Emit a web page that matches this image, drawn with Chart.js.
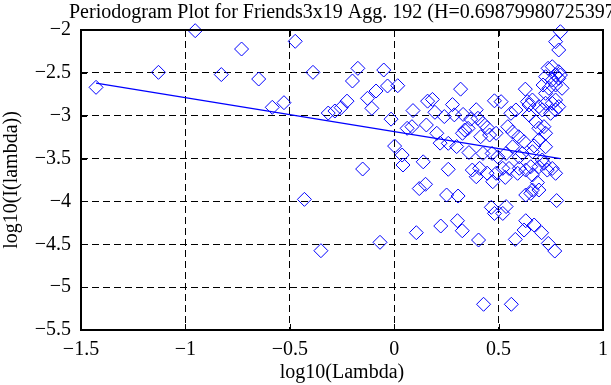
<!DOCTYPE html>
<html>
<head>
<meta charset="utf-8">
<script src="https://cdn.jsdelivr.net/npm/chart.js@4.4.1/dist/chart.umd.min.js"></script>
<style>
  html, body { margin: 0; padding: 0; background: #fff; }
  #wrap { width: 611px; height: 385px; }
</style>
</head>
<body>
<div id="wrap"><canvas id="periodogram" width="611" height="385"></canvas></div>
<script>
// periodogram points: log10(lambda) vs log10(I(lambda))
const logLambda = [
  -1.428, -1.129, -0.953, -0.828, -0.731, -0.649, -0.584, -0.528, -0.474, -0.430,
  -0.389, -0.351, -0.316, -0.284, -0.254, -0.226, -0.200, -0.174, -0.151, -0.128,
  -0.107, -0.087, -0.068, -0.050, -0.032, -0.015, 0.002,
  0.017, 0.038, 0.042, 0.062, 0.085, 0.090, 0.106, 0.120, 0.139, 0.150,
  0.154, 0.160, 0.183, 0.195, 0.204, 0.220, 0.223, 0.240, 0.251, 0.259,
  0.259, 0.279, 0.288, 0.299, 0.303, 0.306, 0.318, 0.326, 0.327, 0.330,
  0.338, 0.354, 0.358, 0.366, 0.374, 0.393, 0.393, 0.401, 0.404, 0.409,
  0.414, 0.425, 0.425, 0.428, 0.445, 0.445, 0.457, 0.465, 0.469, 0.472,
  0.480, 0.480, 0.488, 0.488, 0.496, 0.512, 0.520, 0.520, 0.532, 0.536,
  0.536, 0.544, 0.550, 0.559, 0.561, 0.567, 0.567, 0.580, 0.583, 0.591,
  0.596, 0.599, 0.599, 0.614, 0.622, 0.622, 0.628, 0.630, 0.630, 0.630,
  0.638, 0.646, 0.646, 0.654, 0.654, 0.662, 0.662, 0.662, 0.662, 0.670,
  0.670, 0.678, 0.686, 0.693, 0.693, 0.693, 0.693, 0.693, 0.706, 0.709,
  0.709, 0.713, 0.717, 0.717, 0.725, 0.725, 0.725, 0.725, 0.725, 0.733,
  0.737, 0.738, 0.741, 0.749, 0.757, 0.757, 0.757, 0.757, 0.769, 0.773,
  0.773, 0.773, 0.773, 0.773, 0.773, 0.778, 0.788, 0.788, 0.788, 0.788,
  0.796, 0.796, 0.804
];
const logPower = [
  -2.669, -2.494, -2.008, -2.520, -2.222, -2.572, -2.902, -2.848, -2.132, -3.976,
  -2.494, -4.575, -2.969, -2.945, -2.906, -2.830, -2.595, -2.447, -3.622, -2.797,
  -2.914, -2.712, -4.477, -2.467, -2.653, -3.040, -3.354,
  -2.650, -3.459, -3.575, -3.147, -3.128, -2.940, -4.365, -3.850, -3.538, -3.800,
  -3.108, -2.830, -2.810, -2.960, -3.205, -3.320, -4.287, -3.010, -3.925, -3.322,
  -3.625, -2.870, -2.990, -3.360, -4.225, -3.937, -2.690, -4.342, -3.205, -2.985,
  -3.167, -3.147, -3.430, -3.040, -3.634, -2.930, -3.712, -3.030, -4.450, -3.614,
  -3.245, -3.089, -3.440, -5.200, -3.670, -3.138, -3.225, -4.069, -3.440, -3.770,
  -2.826, -4.140, -3.205, -3.672, -3.480, -2.836, -3.614, -4.140, -3.720, -3.440,
  -4.060, -3.128, -3.615, -2.972, -5.200, -3.190, -3.362, -4.443, -2.933, -3.672,
  -3.245, -3.480, -3.614, -3.440, -3.303, -4.334, -2.690, -3.634, -4.225, -3.925,
  -2.836, -2.992, -2.875, -3.595, -3.906, -3.420, -3.692, -3.867, -2.817, -4.275,
  -3.352, -3.070, -3.780, -3.595, -3.147, -2.894, -3.283, -3.867, -4.365, -2.933,
  -3.517, -2.642, -3.555, -3.128, -3.362, -2.855, -2.739, -2.545, -3.205, -3.634,
  -2.447, -4.490, -2.680, -2.972, -2.855, -2.583, -2.428, -3.615, -4.579, -2.933,
  -2.817, -2.642, -2.525, -2.136, -3.672, -3.990, -2.894, -2.486, -2.564, -2.233,
  -2.525, -2.020, -2.680
];
// least squares line as drawn
const fitX = [-1.428, 0.796];
const fitY = [-2.62, -3.50];

const xTicks = [-1.5, -1, -0.5, 0, 0.5, 1];
const yTicks = [-5.5, -5, -4.5, -4, -3.5, -3, -2.5, -2];
const titleText = "Periodogram Plot for Friends3x19 Agg. 192 (H=0.698799807253972)";

const serif = "'Liberation Serif', 'DejaVu Serif', serif";
const fmt = v => String(v).replace('-', '\u2212');

// title, box and inward tick marks like the matlab figure
const boxPlugin = {
  id: 'box',
  afterDatasetsDraw(chart) {
    const { ctx, chartArea: a, scales } = chart;
    ctx.save();
    ctx.strokeStyle = '#000';
    ctx.lineWidth = 1;
    ctx.beginPath();
    xTicks.forEach(t => {
      const px = Math.round(scales.x.getPixelForValue(t)) + 0.5;
      ctx.moveTo(px, a.bottom); ctx.lineTo(px, a.bottom - 6);
      ctx.moveTo(px, a.top); ctx.lineTo(px, a.top + 6);
    });
    yTicks.forEach(t => {
      const py = Math.round(scales.y.getPixelForValue(t)) + 0.5;
      ctx.moveTo(a.left, py); ctx.lineTo(a.left + 6, py);
      ctx.moveTo(a.right, py); ctx.lineTo(a.right - 6, py);
    });
    ctx.stroke();
    ctx.lineWidth = 2;
    ctx.strokeRect(a.left, a.top, a.right - a.left, a.bottom - a.top);
    ctx.restore();
  },
  afterDraw(chart) {
    const { ctx } = chart;
    ctx.save();
    ctx.fillStyle = '#000';
    ctx.font = "20px " + serif;
    ctx.textBaseline = 'alphabetic';
    ctx.textAlign = 'left';
    ctx.fillText(titleText, 69, 18);
    ctx.restore();
  }
};

const ctx = document.getElementById('periodogram').getContext('2d');

new Chart(ctx, {
  type: 'scatter',
  data: {
    datasets: [
      {
        label: 'periodogram',
        data: logLambda.map((x, i) => ({ x: x, y: logPower[i] })),
        pointStyle: 'rectRot',
        pointRadius: 7,
        pointBorderWidth: 1,
        borderColor: '#0000ff',
        backgroundColor: 'rgba(0,0,0,0)',
        clip: false
      },
      {
        label: 'fit',
        type: 'line',
        data: fitX.map((x, i) => ({ x: x, y: fitY[i] })),
        borderColor: '#0000ff',
        borderWidth: 1.4,
        pointRadius: 0,
        fill: false
      }
    ]
  },
  options: {
    responsive: false,
    animation: false,
    layout: { padding: { top: 30, right: 2, left: 0, bottom: 0 } },
    plugins: {
      legend: { display: false },
      tooltip: { enabled: false },
      title: { display: false }
    },
    scales: {
      x: {
        type: 'linear',
        min: -1.5,
        max: 1,
        afterBuildTicks: s => { s.ticks = xTicks.map(v => ({ value: v })); },
        afterFit: s => { s.height = 55; s.paddingLeft = 0; s.paddingRight = 0; },
        ticks: {
          color: '#000',
          padding: 8,
          maxRotation: 0,
          font: { family: serif, size: 20 },
          callback: v => fmt(v)
        },
        grid: { color: '#000', lineWidth: 1, drawTicks: false },
        border: { display: false, dash: [7, 4] },
        title: {
          display: true,
          text: 'log10(Lambda)',
          color: '#000',
          font: { family: serif, size: 20 },
          padding: { top: 0, bottom: 0 }
        }
      },
      y: {
        type: 'linear',
        min: -5.5,
        max: -2,
        afterBuildTicks: s => { s.ticks = yTicks.map(v => ({ value: v })); },
        afterFit: s => { s.width = 81; s.paddingTop = 0; s.paddingBottom = 0; },
        ticks: {
          color: '#000',
          padding: 10,
          font: { family: serif, size: 20 },
          callback: v => fmt(v)
        },
        grid: { color: '#000', lineWidth: 1, drawTicks: false },
        border: { display: false, dash: [7, 4] },
        title: {
          display: true,
          text: 'log10(I(lambda))',
          color: '#000',
          font: { family: serif, size: 20 },
          padding: { top: 0, bottom: 0 }
        }
      }
    }
  },
  plugins: [boxPlugin]
});
</script>
</body>
</html>
